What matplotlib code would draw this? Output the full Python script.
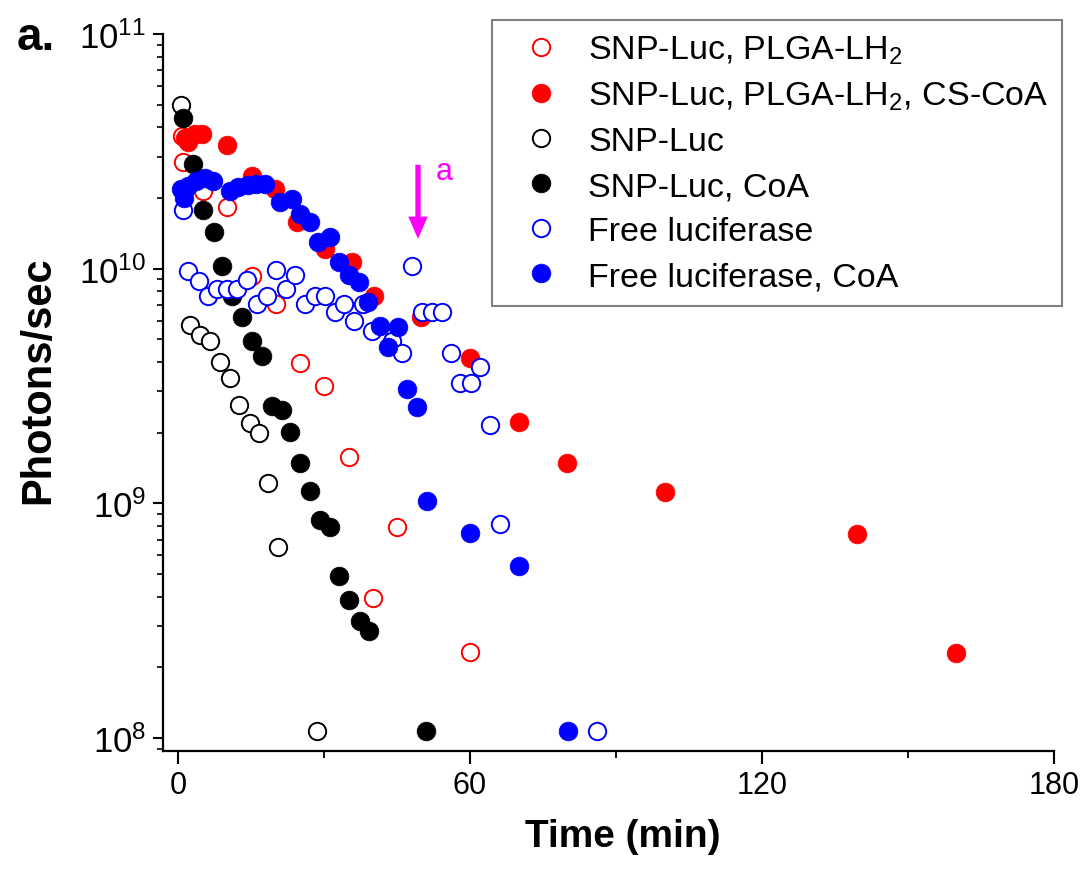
import matplotlib
matplotlib.use("Agg")
import matplotlib.pyplot as plt
from matplotlib.ticker import FixedLocator, LogLocator, NullFormatter

plt.rcParams['font.family'] = ['Liberation Sans', 'DejaVu Sans']
plt.rcParams['mathtext.default'] = 'regular'

# ---- data (time in min, photons/sec) ----
t_snp_plga = [0.8, 1.1, 5.2, 10.1, 15.1, 20.1, 25.1, 30.0, 35.1, 40.1, 45.0, 60.0]
v_snp_plga = [3.69e10, 2.84e10, 2.15e10, 1.84e10, 9.3e9, 7.07e9, 3.96e9, 3.17e9,
              1.57e9, 3.94e8, 7.91e8, 2.32e8]

t_snp_plga_cscoa = [1.4, 2.1, 3.4, 5.0, 10.0, 15.1, 19.9, 24.4, 30.2, 35.7, 40.3,
                    50.0, 60.0, 70.0, 79.9, 100.1, 139.5, 159.9]
v_snp_plga_cscoa = [3.6e10, 3.45e10, 3.75e10, 3.75e10, 3.37e10, 2.49e10, 2.18e10,
                    1.58e10, 1.21e10, 1.07e10, 7.67e9, 6.21e9, 4.15e9, 2.23e9,
                    1.49e9, 1.12e9, 7.39e8, 2.30e8]

t_snp = [0.5, 2.5, 4.5, 6.6, 8.6, 10.7, 12.6, 14.7, 16.7, 18.5, 20.6, 28.5]
v_snp = [4.98e10, 5.77e9, 5.21e9, 4.93e9, 3.99e9, 3.41e9, 2.62e9, 2.20e9,
         1.99e9, 1.22e9, 6.50e8, 1.07e8]

t_snp_coa = [1.1, 3.1, 5.2, 7.3, 9.1, 11.0, 13.1, 15.2, 17.2, 19.3, 21.3, 23.0,
             25.1, 27.2, 29.2, 31.2, 33.1, 35.2, 37.3, 39.2, 51.0]
v_snp_coa = [4.37e10, 2.80e10, 1.77e10, 1.44e10, 1.03e10, 7.67e9, 6.21e9, 4.93e9,
             4.26e9, 2.61e9, 2.51e9, 2.01e9, 1.48e9, 1.13e9, 8.46e8, 7.91e8,
             4.92e8, 3.88e8, 3.14e8, 2.85e8, 1.07e8]

t_free = [1.1, 2.1, 4.2, 6.2, 8.0, 10.0, 12.1, 14.1, 16.2, 18.2, 20.1, 22.2, 24.0,
          26.1, 28.1, 30.2, 32.3, 34.1, 36.2, 38.1, 39.8, 44.0, 46.1, 48.1, 50.1,
          52.1, 54.2, 56.1, 57.9, 60.1, 62.1, 64.1, 66.2, 86.1]
v_free = [1.78e10, 9.80e9, 8.84e9, 7.66e9, 8.19e9, 8.17e9, 8.19e9, 8.91e9, 7.06e9,
          7.63e9, 9.86e9, 8.19e9, 9.40e9, 7.06e9, 7.63e9, 7.63e9, 6.56e9, 7.06e9,
          6.00e9, 7.06e9, 5.44e9, 4.92e9, 4.37e9, 1.03e10, 6.54e9, 6.54e9, 6.54e9,
          4.36e9, 3.26e9, 3.26e9, 3.80e9, 2.16e9, 8.16e8, 1.07e8]

t_free_coa = [0.6, 1.2, 2.1, 3.7, 5.5, 7.2, 10.7, 12.3, 14.4, 16.0, 17.9, 21.0,
              23.4, 25.1, 27.1, 28.8, 31.2, 33.1, 35.1, 37.2, 39.1, 41.5, 43.1,
              45.1, 47.1, 49.0, 51.1, 60.0, 70.1, 80.1]
v_free_coa = [2.18e10, 2.01e10, 2.26e10, 2.37e10, 2.43e10, 2.37e10, 2.15e10,
              2.22e10, 2.28e10, 2.30e10, 2.30e10, 1.92e10, 1.98e10, 1.71e10,
              1.58e10, 1.30e10, 1.36e10, 1.07e10, 9.40e9, 8.75e9, 7.24e9, 5.67e9,
              4.64e9, 5.62e9, 3.08e9, 2.57e9, 1.02e9, 7.48e8, 5.41e8, 1.07e8]

labels = ['SNP-Luc, PLGA-LH$_2$', 'SNP-Luc, PLGA-LH$_2$, CS-CoA', 'SNP-Luc',
          'SNP-Luc, CoA', 'Free luciferase', 'Free luciferase, CoA']
x_ticks = [0, 60, 120, 180]
x_minor = [30, 90, 150]

RED = '#ff0000'
BLUE = '#0000ff'
BLACK = '#000000'

series = [
    (t_snp_plga, v_snp_plga, RED, False),
    (t_snp_plga_cscoa, v_snp_plga_cscoa, RED, True),
    (t_snp, v_snp, BLACK, False),
    (t_snp_coa, v_snp_coa, BLACK, True),
    (t_free, v_free, BLUE, False),
    (t_free_coa, v_free_coa, BLUE, True),
]

fig = plt.figure(figsize=(10.86, 8.70), dpi=100)
ax = fig.add_axes([163 / 1086, 1 - 752 / 870, (1054 - 163) / 1086, (752 - 35) / 870])

for i, ((t, v, c, filled), lab) in enumerate(zip(series, labels)):
    if filled:
        ax.plot(t, v, linestyle='none', marker='o', markersize=13.5,
                markerfacecolor=c, markeredgecolor=c, markeredgewidth=0.5,
                label=lab, zorder=3 + i)
    else:
        ax.plot(t, v, linestyle='none', marker='o', markersize=12.5,
                markerfacecolor='white', markeredgecolor=c, markeredgewidth=1.4,
                label=lab, zorder=3 + i)

ax.set_yscale('log')
ax.set_xlim(-3.1, 180)
ax.set_ylim(10 ** 7.9446, 1e11)

ax.spines['top'].set_visible(False)
ax.spines['right'].set_visible(False)
for s in ('left', 'bottom'):
    ax.spines[s].set_linewidth(1.6)

ax.xaxis.set_major_locator(FixedLocator(x_ticks))
ax.xaxis.set_minor_locator(FixedLocator(x_minor))
ax.set_xticklabels([str(x) for x in x_ticks])
ax.yaxis.set_major_locator(LogLocator(base=10, numticks=10))
ax.yaxis.set_minor_locator(LogLocator(base=10, subs=range(2, 10), numticks=20))
ax.yaxis.set_minor_formatter(NullFormatter())

ax.tick_params(axis='x', which='major', direction='out', length=9, width=1.5,
               labelsize=22, pad=5)
ax.tick_params(axis='x', which='minor', direction='out', length=5, width=1.3)
ax.tick_params(axis='y', which='major', direction='out', length=7, width=1.5,
               labelsize=25, pad=5)
ax.tick_params(axis='y', which='minor', direction='out', length=4.5, width=1.2)

ax.set_xlabel('Time (min)', fontsize=28, fontweight='bold')
ax.set_ylabel('Photons/sec', fontsize=30, fontweight='bold')
ax.xaxis.set_label_coords(0.516, -0.093)
ax.yaxis.set_label_coords(-0.118, 0.519)

fig.text(17 / 1086, 1 - 38 / 870, 'a.', fontsize=33, fontweight='bold',
         ha='left', va='center')

# magenta arrow with label
ax.annotate('', xy=(49.3, 1.34e10), xytext=(49.3, 2.77e10),
            arrowprops=dict(facecolor='#ff00ff', edgecolor='none', width=3.8,
                            headwidth=14, headlength=16, shrink=0),
            zorder=10)
ax.text(53.0, 2.62e10, 'a', color='#ff00ff', fontsize=22, ha='left', va='center')

leg = ax.legend(loc='upper right', bbox_to_anchor=(1062 / 1086, 1 - 21 / 870),
                bbox_transform=fig.transFigure, fontsize=24.5, frameon=True,
                fancybox=False, edgecolor='#808080', framealpha=1,
                borderpad=0.4, labelspacing=0.41, handlelength=2.07,
                handletextpad=0.36, borderaxespad=0, numpoints=1)
leg.get_frame().set_linewidth(1.5)

fig.savefig('out.png', dpi=100)
